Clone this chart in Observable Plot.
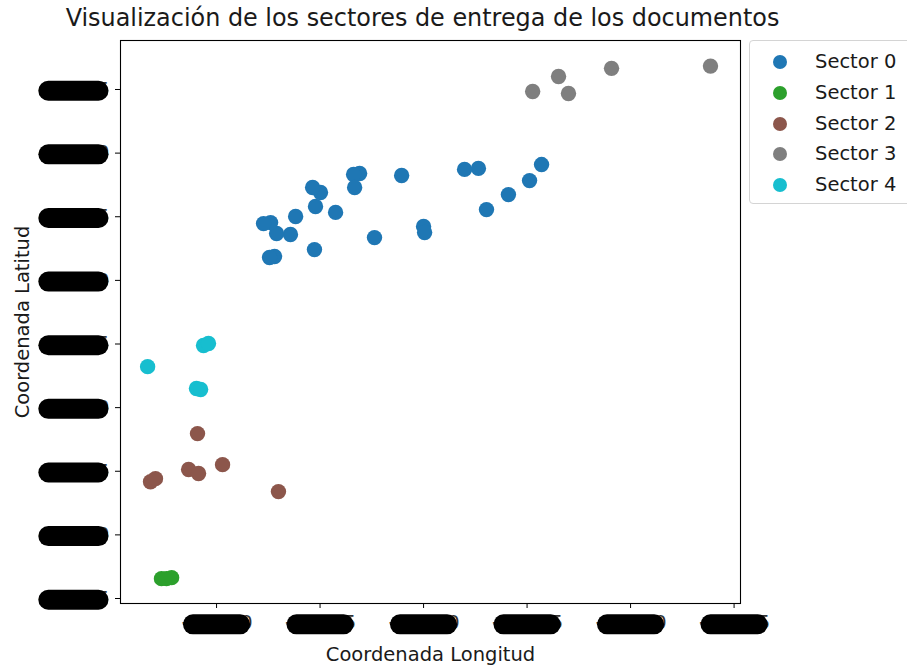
<!DOCTYPE html>
<html>
<head>
<meta charset="utf-8">
<script src="https://cdn.jsdelivr.net/npm/d3@7"></script>
<script src="https://cdn.jsdelivr.net/npm/@observablehq/plot@0.6"></script>
<style>
  html, body { margin: 0; padding: 0; background: #fff; }
  #wrap { position: relative; width: 907px; height: 668px; overflow: hidden; font-family: "DejaVu Sans", sans-serif; }
  #title { position: absolute; left: 0; width: 845px; top: 4px; text-align: center; font-size: 23.9px; color: #1a1a1a; line-height: 28px; white-space: nowrap; }
  #legend { position: absolute; left: 749px; top: 40px; width: 170px; height: 164px; border: 1px solid #d4d4d4; border-radius: 4px; background: #fff; box-sizing: border-box; }
  .row { position: absolute; left: 0; height: 30px; }
  .sw { position: absolute; left: 23px; width: 14px; height: 14px; border-radius: 50%; top: -7px; }
  .lab { position: absolute; left: 65px; font-size: 19.5px; color: #1a1a1a; white-space: nowrap; line-height: 30px; top: -15px; }
  svg { position: absolute; left: 0; top: 0; }
</style>
</head>
<body>
<div id="wrap">
  <div id="title"></div>
  <div id="legend"></div>
</div>
<script>
const titleText = "Visualización de los sectores de entrega de los documentos";
const xLabel = "Coordenada Longitud";
const yLabel = "Coordenada Latitud";
const sectors = ["Sector 0", "Sector 1", "Sector 2", "Sector 3", "Sector 4"];
const sectorColors = ["#1f77b4", "#2ca02c", "#8c564b", "#7f7f7f", "#17becf"];
const xTicks = [-78.70, -78.65, -78.60, -78.55, -78.50, -78.45];
const yTicks = [-1.525, -1.500, -1.475, -1.450, -1.425, -1.400, -1.375, -1.350, -1.325];

// Sector 0
const lon0 = [-78.5430, -78.5488, -78.5590, -78.5696, -78.5735, -78.5802, -78.6106, -78.6000, -78.5995, -78.6237,
              -78.6309, -78.6338, -78.6333, -78.6425, -78.6498, -78.6536, -78.6522, -78.6618, -78.6643, -78.6710,
              -78.6739, -78.6773, -78.6527, -78.6720, -78.6744];
const lat0 = [-1.3545, -1.3608, -1.3663, -1.3722, -1.3560, -1.3564, -1.3588, -1.3788, -1.3812, -1.3832,
              -1.3580, -1.3584, -1.3635, -1.3733, -1.3655, -1.3635, -1.3710, -1.3749, -1.3820, -1.3816,
              -1.3773, -1.3777, -1.3879, -1.3906, -1.3910];
// Sector 1
const lon1 = [-78.7266, -78.7242, -78.7217];
const lat1 = [-1.5172, -1.5172, -1.5168];
// Sector 2
const lon2 = [-78.7092, -78.7135, -78.7087, -78.6971, -78.7319, -78.7295, -78.6701];
const lat2 = [-1.4602, -1.4743, -1.4759, -1.4724, -1.4791, -1.4779, -1.4830];
// Sector 3
const lon3 = [-78.5473, -78.5348, -78.5300, -78.5092, -78.4614];
const lat3 = [-1.3258, -1.3199, -1.3266, -1.3167, -1.3158];
// Sector 4
const lon4 = [-78.7063, -78.7039, -78.7333, -78.7097, -78.7077];
const lat4 = [-1.4256, -1.4248, -1.4339, -1.4425, -1.4429];

const xDomain = [-78.7464, -78.4469];
const yDomain = [-1.52696, -1.30575];

const groups = [[lon0, lat0], [lon1, lat1], [lon2, lat2], [lon3, lat3], [lon4, lat4]];
const points = groups.flatMap(([lo, la], i) => lo.map((v, j) => ({lon: v, lat: la[j], sector: sectors[i]})));

document.getElementById("title").textContent = titleText;

const legend = document.getElementById("legend");
sectors.forEach((s, i) => {
  const row = document.createElement("div");
  row.className = "row";
  row.style.top = (21 + i * 30.75) + "px";
  const sw = document.createElement("div");
  sw.className = "sw";
  sw.style.background = sectorColors[i];
  const lab = document.createElement("div");
  lab.className = "lab";
  lab.textContent = s;
  row.appendChild(sw); row.appendChild(lab);
  legend.appendChild(row);
});

const chart = Plot.plot({
  width: 907,
  height: 668,
  marginLeft: 120,
  marginRight: 167,
  marginTop: 40,
  marginBottom: 65,
  style: {fontFamily: "DejaVu Sans", fontSize: "19.5px", background: "transparent", color: "#000"},
  x: {domain: xDomain},
  y: {domain: yDomain},
  color: {domain: sectors, range: sectorColors},
  marks: [
    Plot.frame({stroke: "#000", strokeWidth: 1.1}),
    Plot.axisX({ticks: xTicks, tickFormat: d3.format(".2f"), tickSize: 5, tickPadding: 7, label: null, fontSize: 19.5, fill: "#333"}),
    Plot.axisY({ticks: yTicks, tickFormat: d3.format(".3f"), tickSize: 5, tickPadding: 6, label: null, fontSize: 19.5, fill: "#333"}),
    Plot.dot(points, {x: "lon", y: "lat", fill: "sector", r: 7.7}),
    Plot.text([xLabel], {text: d => d, frameAnchor: "bottom", textAnchor: "middle", dy: 57, fontSize: 19.5, fill: "#1a1a1a"}),
    Plot.text([yLabel], {text: d => d, frameAnchor: "left", textAnchor: "middle", rotate: -90, dx: -98, fontSize: 19.5, fill: "#1a1a1a"})
  ]
});
document.getElementById("wrap").appendChild(chart);

// redaction blobs over the tick labels, as in the reference
const ns = "http://www.w3.org/2000/svg";
chart.querySelectorAll('[aria-label="x-axis tick label"] text, [aria-label="y-axis tick label"] text').forEach(t => {
  const isX = t.parentNode.getAttribute("aria-label").startsWith("x");
  const b = t.getBBox();
  const h = 20;
  const shrink = isX ? 2.5 : 1;
  const r = document.createElementNS(ns, "rect");
  r.setAttribute("x", b.x + shrink);
  r.setAttribute("y", b.y + b.height / 2 - h / 2 + 1.5);
  r.setAttribute("width", Math.max(0, b.width - 2 * shrink));
  r.setAttribute("height", h);
  r.setAttribute("rx", h / 2);
  r.setAttribute("fill", "#000");
  r.setAttribute("stroke", "none");
  const tr = t.getAttribute("transform");
  if (tr) r.setAttribute("transform", tr);
  t.parentNode.insertBefore(r, t.nextSibling);
});
</script>
</body>
</html>
